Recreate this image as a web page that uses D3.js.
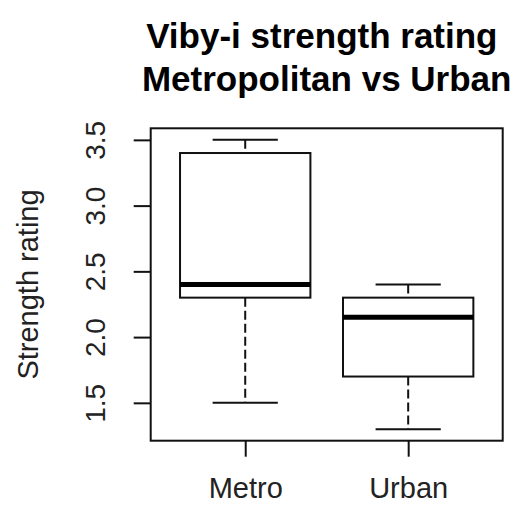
<!DOCTYPE html>
<html>
<head>
<meta charset="utf-8">
<script src="https://cdn.jsdelivr.net/npm/d3@7"></script>
<style>
  body { margin: 0; background: #fff; }
  svg { display: block; font-family: "Liberation Sans", Arial, sans-serif; }
</style>
</head>
<body>
<svg class="display"></svg>
<script>
// chart data
const groups = ['Metro', 'Urban'];
const lowerWhisker = [1.5, 1.3];
const q1 = [2.3, 1.7];
const medians = [2.4, 2.15];
const q3 = [3.4, 2.3];
const upperWhisker = [3.5, 2.4];
const yTicks = [1.5, 2.0, 2.5, 3.0, 3.5];

const width = 518;
const height = 505;
const plot = { left: 150.7, right: 502.7, top: 128.3, bottom: 440.7 };
const ink = '#111';

const svg = d3.select('.display')
  .attr('width', width)
  .attr('height', height);

// R style 4% padding around the data range
const lo = d3.min(lowerWhisker), hi = d3.max(upperWhisker);
const pad = (hi - lo) * 0.04;
const y = d3.scaleLinear()
  .domain([lo - pad, hi + pad])
  .range([plot.bottom, plot.top]);

const x = d3.scaleLinear()
  .domain([0.5 - 0.08, groups.length + 0.5 + 0.08])
  .range([plot.left, plot.right]);

const boxHalf = 0.4;
const data = groups.map((g, i) => ({
  name: g, pos: i + 1,
  lw: lowerWhisker[i], q1: q1[i], med: medians[i], q3: q3[i], uw: upperWhisker[i]
}));

const boxes = svg.append('g').selectAll('g')
  .data(data)
  .enter().append('g');

// dashed whiskers
boxes.append('line')
  .attr('x1', d => x(d.pos)).attr('x2', d => x(d.pos))
  .attr('y1', d => y(d.uw)).attr('y2', d => y(d.q3))
  .attr('stroke', ink).attr('stroke-width', 2).attr('stroke-dasharray', '9,4');
boxes.append('line')
  .attr('x1', d => x(d.pos)).attr('x2', d => x(d.pos))
  .attr('y1', d => y(d.q1)).attr('y2', d => y(d.lw))
  .attr('stroke', ink).attr('stroke-width', 2).attr('stroke-dasharray', '9,4');

// whisker caps
['lw', 'uw'].forEach(k => {
  boxes.append('line')
    .attr('x1', d => x(d.pos - boxHalf / 2)).attr('x2', d => x(d.pos + boxHalf / 2))
    .attr('y1', d => y(d[k])).attr('y2', d => y(d[k]))
    .attr('stroke', ink).attr('stroke-width', 2);
});

boxes.append('rect')
  .attr('x', d => x(d.pos - boxHalf))
  .attr('width', d => x(d.pos + boxHalf) - x(d.pos - boxHalf))
  .attr('y', d => y(d.q3))
  .attr('height', d => y(d.q1) - y(d.q3))
  .attr('fill', '#fff')
  .attr('stroke', ink).attr('stroke-width', 2);

boxes.append('line')
  .attr('x1', d => x(d.pos - boxHalf)).attr('x2', d => x(d.pos + boxHalf))
  .attr('y1', d => y(d.med)).attr('y2', d => y(d.med))
  .attr('stroke', '#000').attr('stroke-width', 5);

// frame
svg.append('rect')
  .attr('x', plot.left).attr('y', plot.top)
  .attr('width', plot.right - plot.left).attr('height', plot.bottom - plot.top)
  .attr('fill', 'none').attr('stroke', ink).attr('stroke-width', 2);

// y axis
const yAxis = svg.append('g')
  .attr('transform', 'translate(' + plot.left + ',0)')
  .call(d3.axisLeft(y).tickValues(yTicks).tickSize(17).tickFormat(d3.format('.1f')));
yAxis.select('.domain').remove();
yAxis.selectAll('line').attr('stroke', ink).attr('stroke-width', 2);
yAxis.selectAll('text')
  .attr('transform', 'rotate(-90)')
  .attr('x', 0).attr('y', -46).attr('dy', 0)
  .attr('text-anchor', 'middle')
  .attr('fill', '#222')
  .style('font-size', '28px');

// x axis
const xAxis = svg.append('g')
  .attr('transform', 'translate(0,' + plot.bottom + ')')
  .call(d3.axisBottom(x).tickValues(data.map(d => d.pos)).tickSize(16)
    .tickFormat((d, i) => groups[i]));
xAxis.select('.domain').remove();
xAxis.selectAll('line').attr('stroke', ink).attr('stroke-width', 2);
xAxis.selectAll('text')
  .attr('y', 57).attr('dy', 0)
  .attr('fill', '#222')
  .style('font-size', '29px');

// axis title
svg.append('text')
  .attr('transform', 'translate(38,' + (plot.top + plot.bottom) / 2 + ') rotate(-90)')
  .attr('text-anchor', 'middle')
  .attr('fill', '#222')
  .style('font-size', '29px')
  .text('Strength rating');

// title
const title = svg.append('text')
  .attr('text-anchor', 'middle')
  .attr('fill', '#000')
  .style('font-size', '35px')
  .style('font-weight', 'bold');
title.append('tspan')
  .attr('x', (plot.left + plot.right) / 2).attr('y', 48)
  .text('Viby-i strength rating\u00a0');
title.append('tspan')
  .attr('x', (plot.left + plot.right) / 2).attr('y', 91)
  .text('Metropolitan vs Urban');
</script>
</body>
</html>
